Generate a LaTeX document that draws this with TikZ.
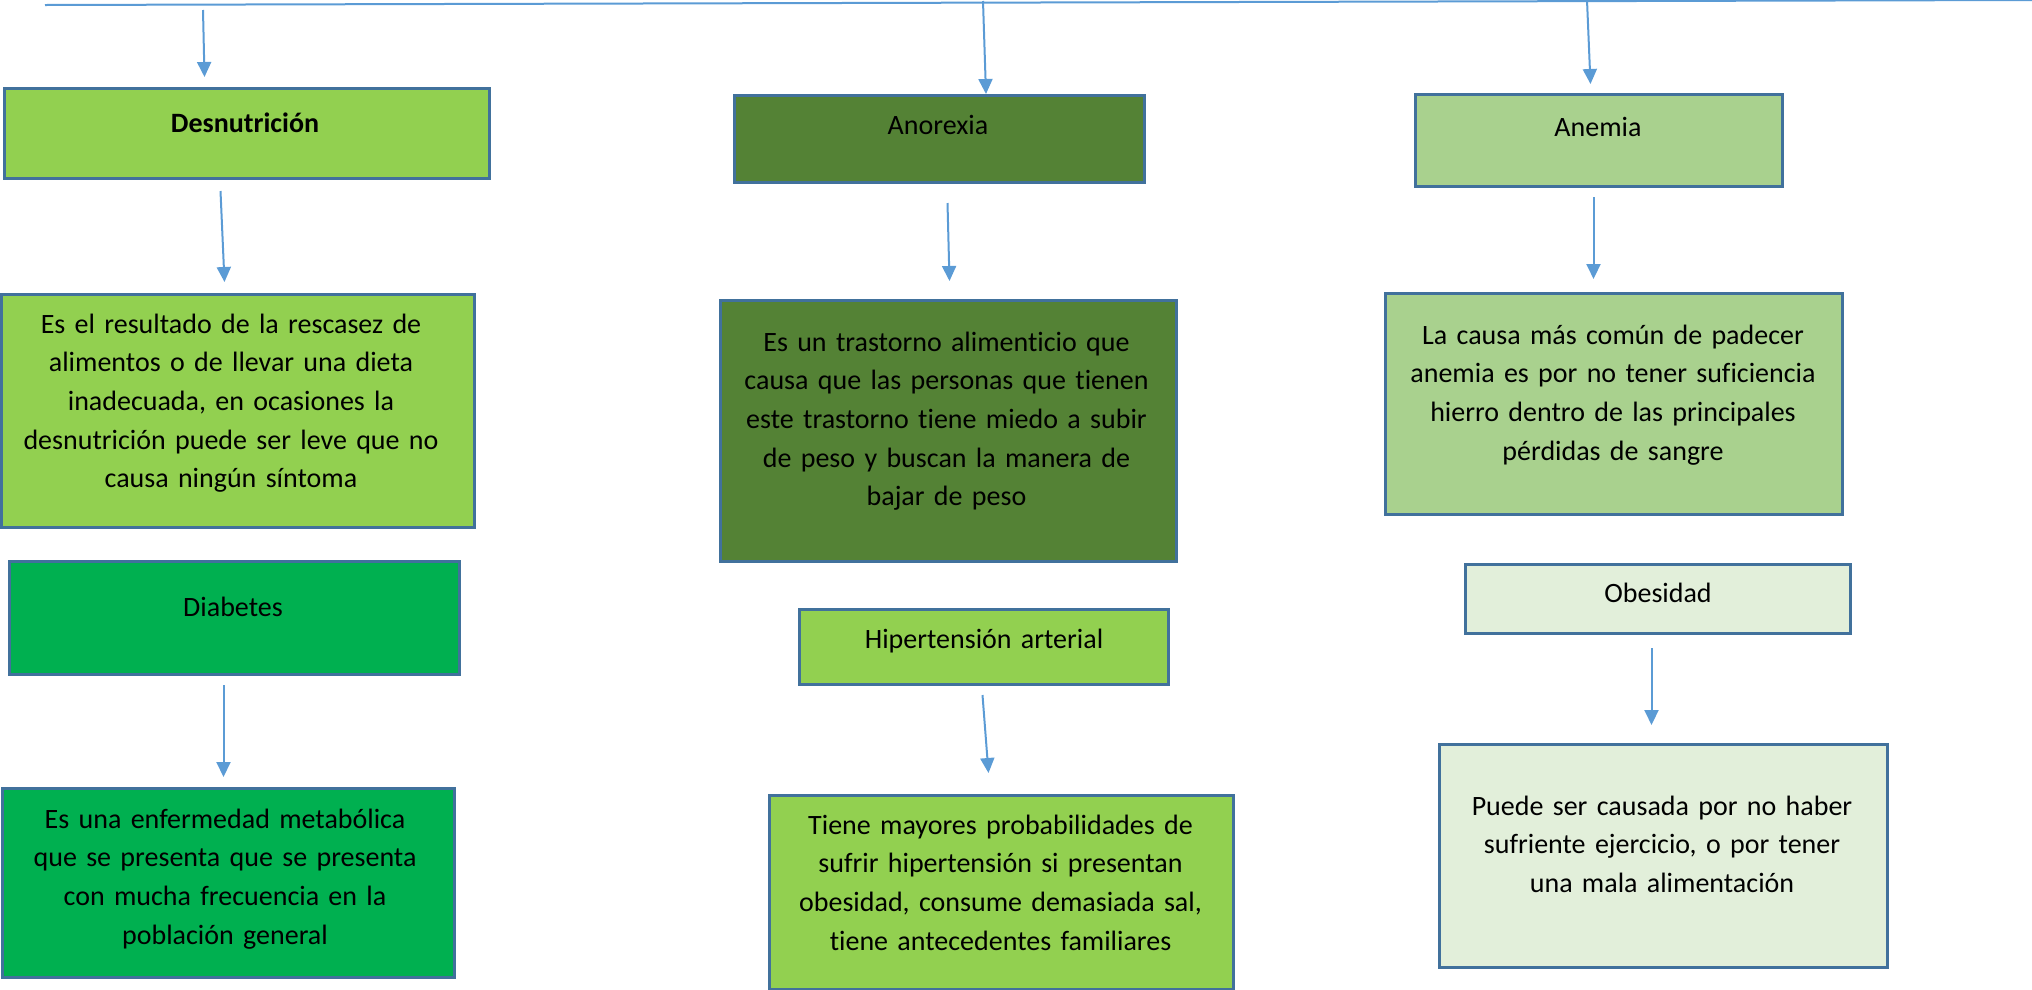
\documentclass[tikz,border=0pt]{standalone}
\usepackage{fontspec}
\setmainfont{Carlito}[Ligatures=NoCommon]
\usetikzlibrary{arrows.meta}
\definecolor{lineblue}{HTML}{5B9BD5}
\definecolor{edgeblue}{HTML}{41719C}
\definecolor{limegreen}{HTML}{92D050}
\definecolor{darkgreen}{HTML}{548235}
\definecolor{palegreen}{HTML}{A9D18E}
\definecolor{brightgreen}{HTML}{00B050}
\definecolor{mintgreen}{HTML}{E2EFDA}
\tikzset{
  caja/.style={draw=edgeblue,line width=3pt,anchor=north west,inner sep=0pt},
  texto/.style={anchor=base,text width=520pt,align=center,inner sep=0pt,font=\fontsize{28}{38.7}\selectfont},
  flecha/.style={->,draw=lineblue,line width=2pt}
}
\begin{document}
\begin{tikzpicture}[x=1pt,y=-1pt,>={Triangle[width=14pt,length=15pt]}]
\useasboundingbox (0,0) rectangle (2032,989);
\coordinate (izq) at (45,5);
\coordinate (der) at (2032,0);
\draw[lineblue,line width=2pt](izq)--(der);
\coordinate (t1) at (203,10);
\coordinate (t2) at (983,1);
\coordinate (t3) at (1587,0);

\node[caja,fill=limegreen,minimum width=485pt,minimum height=90pt] (desn) at (3,87) {};
\node[caja,fill=limegreen,minimum width=473pt,minimum height=233pt] (desnT) at (0,293) {};
\node[caja,fill=brightgreen,minimum width=450pt,minimum height=113pt] (diab) at (8,560) {};
\node[caja,fill=brightgreen,minimum width=452pt,minimum height=189pt] (diabT) at (1,787) {};
\node[caja,fill=darkgreen,minimum width=410pt,minimum height=87pt] (anor) at (733,94) {};
\node[caja,fill=darkgreen,minimum width=456pt,minimum height=261pt] (anorT) at (719,299) {};
\node[caja,fill=limegreen,minimum width=369pt,minimum height=75pt] (hiper) at (798,608) {};
\node[caja,fill=limegreen,minimum width=464pt,minimum height=194pt] (hiperT) at (768,794) {};
\node[caja,fill=palegreen,minimum width=367pt,minimum height=92pt] (anem) at (1414,93) {};
\node[caja,fill=palegreen,minimum width=457pt,minimum height=221pt] (anemT) at (1384,292) {};
\node[caja,fill=mintgreen,minimum width=385pt,minimum height=69pt] (obes) at (1464,563) {};
\node[caja,fill=mintgreen,minimum width=448pt,minimum height=223pt] (obesT) at (1438,743) {};

\node[texto] (desnL) at (245,132) {\bfseries Desnutrición};
\node[texto] (desnTL) at (231,333) {Es el resultado de la rescasez de\\alimentos o de llevar una dieta\\inadecuada, en ocasiones la\\desnutrición puede ser leve que no\\causa ningún síntoma};
\node[texto] (diabL) at (233,616) {Diabetes};
\node[texto] (diabTL) at (225,828) {Es una enfermedad metabólica\\que se presenta que se presenta\\con mucha frecuencia en la\\población general};
\node[texto] (anorL) at (938,134) {Anorexia};
\node[texto] (anorTL) at (946.5,351) {Es un trastorno alimenticio que\\causa que las personas que tienen\\este trastorno tiene miedo a subir\\de peso y buscan la manera de\\bajar de peso};
\node[texto] (hiperL) at (984,648) {Hipertensión arterial};
\node[texto] (hiperTL) at (1000.5,834) {Tiene mayores probabilidades de\\sufrir hipertensión si presentan\\obesidad, consume demasiada sal,\\tiene antecedentes familiares};
\node[texto] (anemL) at (1598,136) {Anemia};
\node[texto] (anemTL) at (1613,344) {La causa más común de padecer\\anemia es por no tener suficiencia\\hierro dentro de las principales\\pérdidas de sangre};
\node[texto] (obesL) at (1658,602) {Obesidad};
\node[texto] (obesTL) at (1662,815) {Puede ser causada por no haber\\sufriente ejercicio, o por tener\\una mala alimentación};

\draw[flecha](t1)--([xshift=-42.5pt,yshift=10pt]desn.north);
\draw[flecha]([xshift=-26.5pt,yshift=-11pt]desn.south)--([xshift=-13.5pt,yshift=11pt]desnT.north);
\draw[flecha]([xshift=-11pt,yshift=-9pt]diab.south)--([xshift=-5pt,yshift=10pt]diabT.north);
\draw[flecha](t2)--([xshift=46.5pt]anor.north);
\draw[flecha]([xshift=8pt,yshift=-19pt]anor.south)--([xshift=1pt,yshift=18pt]anorT.north);
\draw[flecha]([xshift=-1.5pt,yshift=-9pt]hiper.south)--([xshift=-13pt,yshift=21pt]hiperT.north);
\draw[flecha](t3)--([xshift=-8.5pt,yshift=9pt]anem.north);
\draw[flecha]([xshift=-5.5pt,yshift=-9pt]anem.south)--([xshift=-20.5pt,yshift=13pt]anemT.north);
\draw[flecha]([xshift=-6.5pt,yshift=-13pt]obes.south)--([xshift=-12pt,yshift=18pt]obesT.north);
\end{tikzpicture}
\end{document}
